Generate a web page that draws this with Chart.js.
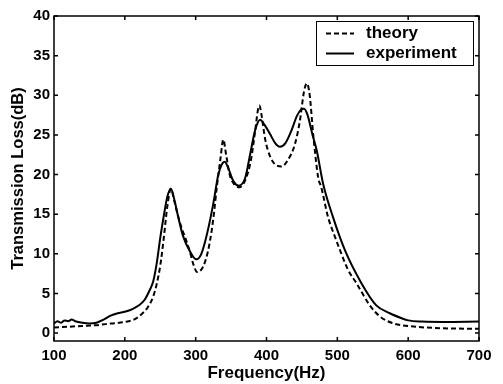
<!DOCTYPE html>
<html>
<head>
<meta charset="utf-8">
<script src="https://cdn.jsdelivr.net/npm/chart.js@4.4.0/dist/chart.umd.min.js"></script>
<style>
  html, body { margin: 0; padding: 0; background: #fff; }
  #wrap { width: 503px; height: 384px; }
</style>
</head>
<body>
<div id="wrap"><canvas id="tl"></canvas></div>
<script>
// theory curve (dashed)
const freqTheory = [100, 120, 140, 160, 180, 200, 215, 225, 232, 240, 245, 250, 255, 260, 265, 270, 275, 280, 287, 292, 297, 302, 308, 314, 320, 325, 330, 335, 339, 343, 348, 355, 362, 370, 378, 384, 388, 390, 393, 398, 405, 412, 421, 430, 440, 447, 453, 457, 461, 466, 473, 477, 487, 496, 504, 515, 527, 545, 560, 580, 600, 650, 700];
const lossTheory = [0.7, 0.8, 0.9, 1.0, 1.2, 1.4, 1.8, 2.5, 3.2, 4.6, 6.2, 8.5, 12.0, 16.0, 18.2, 16.6, 14.8, 13.3, 11.6, 10.2, 8.6, 7.7, 8.0, 9.2, 11.5, 14.5, 18.5, 22.0, 24.4, 22.5, 20.0, 18.7, 18.4, 19.3, 21.8, 25.5, 28.2, 28.7, 27.5, 24.5, 22.3, 21.3, 21.0, 21.8, 23.8, 26.7, 30.5, 31.5, 30.0, 25.0, 19.6, 18.5, 14.6, 12.3, 10.4, 8.0, 6.3, 3.6, 2.1, 1.2, 0.9, 0.6, 0.55];

// experiment curve (solid)
const freqExp = [100, 105, 110, 115, 120, 125, 130, 140, 150, 160, 170, 180, 190, 200, 210, 220, 228, 235, 240, 245, 250, 255, 260, 265, 270, 275, 282, 292, 301, 308, 316, 325, 332, 337, 341, 346, 353, 361, 370, 377, 384, 391, 397, 405, 412, 419, 427, 435, 443, 449, 453, 458, 465, 471, 480, 494, 511, 534, 555, 574, 590, 600, 620, 650, 700];
const lossExp = [1.2, 1.5, 1.3, 1.6, 1.5, 1.7, 1.5, 1.3, 1.2, 1.3, 1.7, 2.2, 2.5, 2.7, 3.0, 3.5, 4.2, 5.4, 6.5, 8.8, 12.0, 14.8, 17.2, 18.2, 16.8, 14.8, 12.3, 10.3, 9.3, 10.0, 12.5, 16.4, 20.0, 21.3, 21.6, 20.8, 19.2, 18.6, 19.6, 22.6, 25.6, 26.9, 26.3, 25.1, 24.0, 23.5, 24.0, 25.5, 27.4, 28.2, 28.3, 27.5, 25.0, 23.0, 18.8, 14.6, 10.4, 6.3, 3.5, 2.5, 1.9, 1.6, 1.45, 1.4, 1.45];

const xTicks = [100, 200, 300, 400, 500, 600, 700];
const yTicks = [0, 5, 10, 15, 20, 25, 30, 35, 40];
const seriesNames = ["theory", "experiment"];

Chart.defaults.font.family = "'Liberation Sans', Arial, sans-serif";
Chart.defaults.color = "#000";

//ticks pointing inwards on all four sides, plus the box
const frameBox = {
  id: "frameBox",
  afterDatasetsDraw(chart) {
    const ctx = chart.ctx;
    const ca = chart.chartArea;
    const xs = chart.scales.x, ys = chart.scales.y;
    ctx.save();
    ctx.strokeStyle = "#000";
    ctx.lineWidth = 1.5;
    ctx.strokeRect(ca.left, ca.top, ca.right - ca.left, ca.bottom - ca.top);
    ctx.beginPath();
    for (const v of xTicks) {
      const px = xs.getPixelForValue(v);
      ctx.moveTo(px, ca.bottom); ctx.lineTo(px, ca.bottom - 4);
      ctx.moveTo(px, ca.top); ctx.lineTo(px, ca.top + 4);
    }
    for (const v of yTicks) {
      const py = ys.getPixelForValue(v);
      ctx.moveTo(ca.left, py); ctx.lineTo(ca.left + 4, py);
      ctx.moveTo(ca.right, py); ctx.lineTo(ca.right - 4, py);
    }
    ctx.stroke();
    ctx.restore();
  }
};

//legend box in the upper right corner
const boxLegend = {
  id: "boxLegend",
  afterDraw(chart) {
    const ctx = chart.ctx;
    const ca = chart.chartArea;
    const w = 157, h = 44;
    const bx = ca.right - 6 - w, by = ca.top + 5;
    ctx.save();
    ctx.fillStyle = "#fff";
    ctx.fillRect(bx, by, w, h);
    ctx.strokeStyle = "#000";
    ctx.lineWidth = 1;
    ctx.strokeRect(bx + 0.5, by + 0.5, w, h);
    chart.data.datasets.forEach((ds, i) => {
      const ly = by + 12.5 + i * 20;
      ctx.beginPath();
      ctx.setLineDash(ds.borderDash || []);
      ctx.lineWidth = 2;
      ctx.moveTo(bx + 10, ly);
      ctx.lineTo(bx + 38, ly);
      ctx.stroke();
      ctx.setLineDash([]);
      ctx.font = "bold 17px 'Liberation Sans', Arial, sans-serif";
      ctx.fillStyle = "#000";
      ctx.textBaseline = "middle";
      ctx.fillText(ds.label, bx + 50, ly);
    });
    ctx.restore();
  }
};

const toPoints = (xs, ys) => xs.map((x, i) => ({ x: x, y: ys[i] }));

new Chart(document.getElementById("tl"), {
  type: "line",
  data: {
    datasets: [
      {
        label: seriesNames[0],
        data: toPoints(freqTheory, lossTheory),
        borderColor: "#000",
        borderWidth: 2,
        borderDash: [5, 3],
        pointRadius: 0,
        cubicInterpolationMode: "monotone",
      },
      {
        label: seriesNames[1],
        data: toPoints(freqExp, lossExp),
        borderColor: "#000",
        borderWidth: 2,
        pointRadius: 0,
        cubicInterpolationMode: "monotone",
      },
    ],
  },
  plugins: [frameBox, boxLegend],
  options: {
    responsive: true,
    maintainAspectRatio: false,
    devicePixelRatio: 1,
    animation: false,
    layout: { padding: { top: 16, right: 24, left: 0, bottom: 0 } },
    plugins: {
      legend: { display: false },
      tooltip: { enabled: false },
    },
    scales: {
      x: {
        type: "linear",
        min: 100,
        max: 700,
        afterBuildTicks: (scale) => { scale.ticks = xTicks.map(v => ({ value: v })); },
        afterFit: (scale) => { scale.height = 43; },
        grid: { display: false, drawTicks: false },
        border: { display: false },
        ticks: { font: { size: 15, weight: "bold" }, padding: 6, maxRotation: 0 },
        title: {
          display: true,
          text: "Frequency(Hz)",
          font: { size: 17, weight: "bold" },
          padding: { top: 0, bottom: 0 },
        },
      },
      y: {
        min: -1,
        max: 40,
        afterBuildTicks: (scale) => { scale.ticks = yTicks.map(v => ({ value: v })); },
        afterFit: (scale) => { scale.width = 54; },
        grid: { display: false, drawTicks: false },
        border: { display: false },
        ticks: { font: { size: 15, weight: "bold" }, padding: 4 },
        title: {
          display: true,
          text: "Transmission Loss(dB)",
          font: { size: 16.5, weight: "bold" },
          padding: { top: 9, bottom: 0 },
        },
      },
    },
  },
});
</script>
</body>
</html>
